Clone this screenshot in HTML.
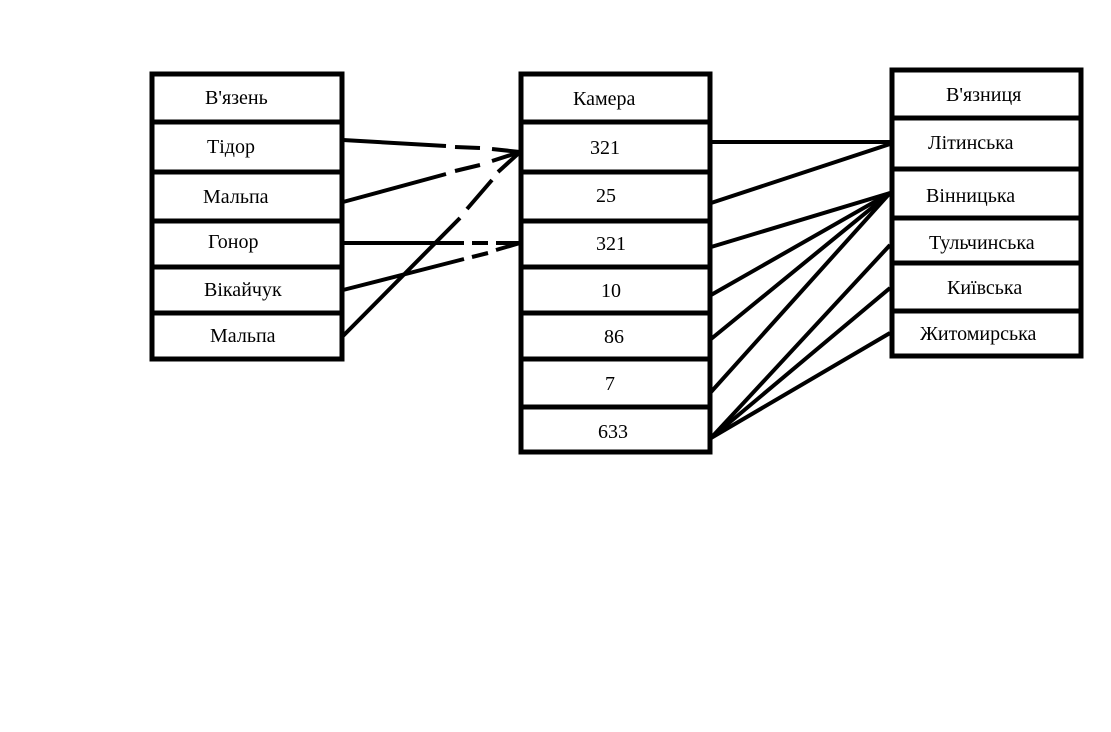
<!DOCTYPE html>
<html><head><meta charset="utf-8"><style>
html,body{margin:0;padding:0;background:#fff;}
svg{display:block;}
text{font-family:"Liberation Serif",serif;font-size:20px;fill:#000;}
</style></head><body>
<svg width="1111" height="732" viewBox="0 0 1111 732" xmlns="http://www.w3.org/2000/svg">
<g fill="none" stroke="#000" stroke-width="5">
<rect x="152" y="74" width="190" height="285"/>
<line x1="152" y1="122" x2="342" y2="122"/>
<line x1="152" y1="172" x2="342" y2="172"/>
<line x1="152" y1="221" x2="342" y2="221"/>
<line x1="152" y1="267" x2="342" y2="267"/>
<line x1="152" y1="313" x2="342" y2="313"/>

<rect x="521" y="74" width="189" height="378"/>
<line x1="521" y1="122" x2="710" y2="122"/>
<line x1="521" y1="172" x2="710" y2="172"/>
<line x1="521" y1="221" x2="710" y2="221"/>
<line x1="521" y1="267" x2="710" y2="267"/>
<line x1="521" y1="313" x2="710" y2="313"/>
<line x1="521" y1="359" x2="710" y2="359"/>
<line x1="521" y1="407" x2="710" y2="407"/>

<rect x="892" y="70" width="189" height="286"/>
<line x1="892" y1="118" x2="1081" y2="118"/>
<line x1="892" y1="169" x2="1081" y2="169"/>
<line x1="892" y1="218" x2="1081" y2="218"/>
<line x1="892" y1="263" x2="1081" y2="263"/>
<line x1="892" y1="311" x2="1081" y2="311"/>
</g>
<g fill="none" stroke="#000" stroke-width="4">
<path d="M343 140 L446 146 M455 147 L480 148 M492 149 L520 152"/>
<path d="M343 202 L446 174 M455 171 L480 165 M492 161 L520 152"/>
<path d="M343 243 L464 243 M472 243 L488 243 M496 243 L520 243"/>
<path d="M343 290 L464 259 M472 257 L488 253 M496 250 L520 243"/>
<path d="M343 336 L460 218 M467 209 L492 180 M498 172 L520 152"/>

<line x1="711" y1="142" x2="890" y2="142"/>
<line x1="711" y1="203" x2="890" y2="144"/>
<line x1="711" y1="247" x2="890" y2="193"/>
<line x1="711" y1="295" x2="890" y2="193"/>
<line x1="711" y1="339" x2="890" y2="193"/>
<line x1="711" y1="392" x2="890" y2="193"/>
<line x1="711" y1="438" x2="890" y2="245"/>
<line x1="711" y1="438" x2="890" y2="288"/>
<line x1="711" y1="438" x2="890" y2="333"/>
</g>
<g>
<text x="205" y="104">В'язень</text>
<text x="207" y="153">Тідор</text>
<text x="203" y="203">Мальпа</text>
<text x="208" y="248">Гонор</text>
<text x="204" y="296">Вікайчук</text>
<text x="210" y="342">Мальпа</text>

<text x="573" y="105">Камера</text>
<text x="590" y="154">321</text>
<text x="596" y="202">25</text>
<text x="596" y="250">321</text>
<text x="601" y="297">10</text>
<text x="604" y="343">86</text>
<text x="605" y="390">7</text>
<text x="598" y="438">633</text>

<text x="946" y="101">В'язниця</text>
<text x="928" y="149">Літинська</text>
<text x="926" y="202">Вінницька</text>
<text x="929" y="249">Тульчинська</text>
<text x="947" y="294">Київська</text>
<text x="920" y="340">Житомирська</text>
</g>
</svg>
</body></html>
